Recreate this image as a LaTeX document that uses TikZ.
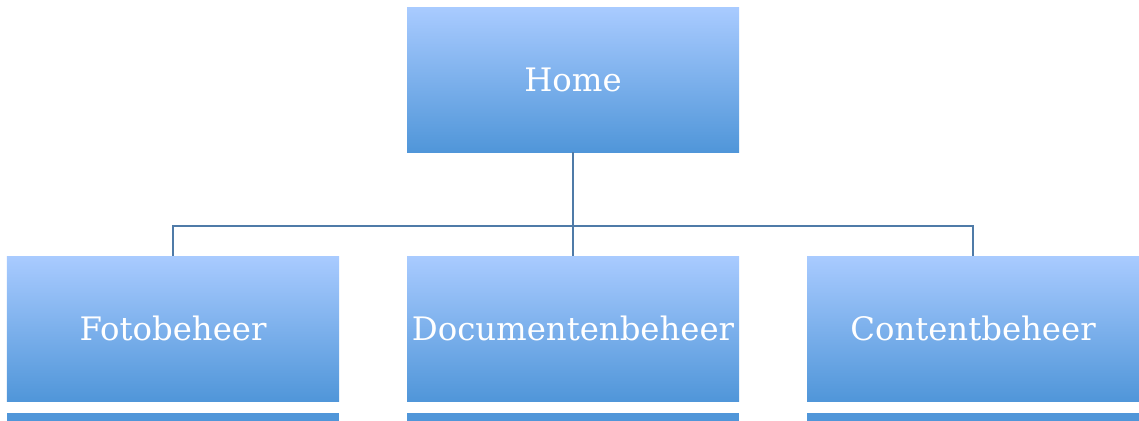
\documentclass[tikz,border=0pt]{standalone}
\usepackage{fontspec}
\setmainfont{DejaVu Serif}
\usepackage{tikz}
\usetikzlibrary{positioning}
\definecolor{boxtop}{RGB}{169,203,255}
\definecolor{boxbottom}{RGB}{80,150,217}
\definecolor{linkblue}{RGB}{79,123,168}
\tikzset{
	every node/.style = {font=\fontsize{23}{28}\selectfont},
}

\begin{document}
\begin{tikzpicture}[
	page/.style = {top color=boxtop, bottom color=boxbottom, text=white, align=center, minimum width=8.3cm, minimum height=3.625cm, inner sep=0},
	strip/.style = {fill=boxbottom, minimum width=8.3cm, minimum height=0.5cm, inner sep=0, anchor=north},
	link/.style = {draw=linkblue, line width=1.4pt}]
\useasboundingbox (0,0) rectangle (28.475,-10.5);
\node[page] (home) at (14.325,-1.9875) {Home};
\node[page,below of=home, node distance=6.225cm] (docu) {Documentenbeheer};
\node[page,left of=docu, node distance=10cm] (foto) {Fotobeheer};
\node[page,right of=docu, node distance=10cm] (content) {Contentbeheer};
\coordinate (split) at ([yshift=-1.85cm]home.south);
\draw[link] (home.south) -- (split) -| (foto.north);
\draw[link] (split) -| (content.north);
\draw[link] (split) -- (docu.north);
% next row, cut off at the page edge
\node[strip] (fotonext) at ([yshift=-0.275cm]foto.south) {};
\node[strip] (docunext) at ([yshift=-0.275cm]docu.south) {};
\node[strip] (contentnext) at ([yshift=-0.275cm]content.south) {};
\end{tikzpicture}
\end{document}
